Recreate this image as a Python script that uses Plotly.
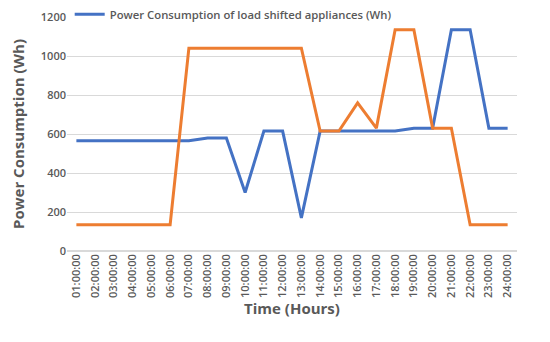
import plotly.graph_objects as go

hours = [f"{h:02d}:00:00" for h in range(1, 25)]
load_shifted = [565, 565, 565, 565, 565, 565, 565, 580, 580, 300, 615, 615, 170,
                615, 615, 615, 615, 615, 630, 630, 1135, 1135, 630, 630]
original = [135, 135, 135, 135, 135, 135, 1040, 1040, 1040, 1040, 1040, 1040, 1040,
            615, 615, 760, 630, 1135, 1135, 630, 630, 135, 135, 135]

fig = go.Figure()
fig.add_trace(go.Scatter(x=hours, y=load_shifted, mode="lines",
                         name="Power Consumption of load shifted appliances (Wh)",
                         line=dict(color="#4472C4", width=3)))
fig.add_trace(go.Scatter(x=hours, y=original, mode="lines", showlegend=False,
                         name="Power Consumption (Wh)",
                         line=dict(color="#ED7D31", width=3)))

gray = "#595959"
fig.add_shape(type="rect", xref="paper", yref="paper", x0=0.005, x1=0.72,
              y0=0.99, y1=1.01, fillcolor="white", line=dict(width=0), layer="between")
fig.update_layout(
    width=550, height=342,
    margin=dict(l=59, r=41, t=9, b=99, autoexpand=False),
    paper_bgcolor="white", plot_bgcolor="white",
    font=dict(family="Open Sans", color=gray),
    legend=dict(x=0.006, y=1.012, yanchor="middle", xanchor="left",
                bgcolor="rgba(0,0,0,0)", font=dict(size=11.3, color=gray, weight=600),
                itemwidth=30, borderwidth=0),
    xaxis=dict(type="category", tickangle=-90,
               tickfont=dict(size=11, color=gray, weight=600),
               title=dict(text="<b>Time (Hours)</b>", font=dict(size=15, color=gray), standoff=6),
               showgrid=False, showline=False, ticks="", range=[-0.5, 23.5]),
    yaxis=dict(range=[0, 1200], dtick=200,
               tickfont=dict(size=11, color=gray, weight=600),
               title=dict(text="<b>Power Consumption (Wh)</b>", font=dict(size=15, color=gray), standoff=12),
               showgrid=True, gridcolor="#D9D9D9", gridwidth=1, zeroline=True,
               zerolinecolor="#D9D9D9", showline=False, ticks=""),
)
fig.write_html("out.html")
